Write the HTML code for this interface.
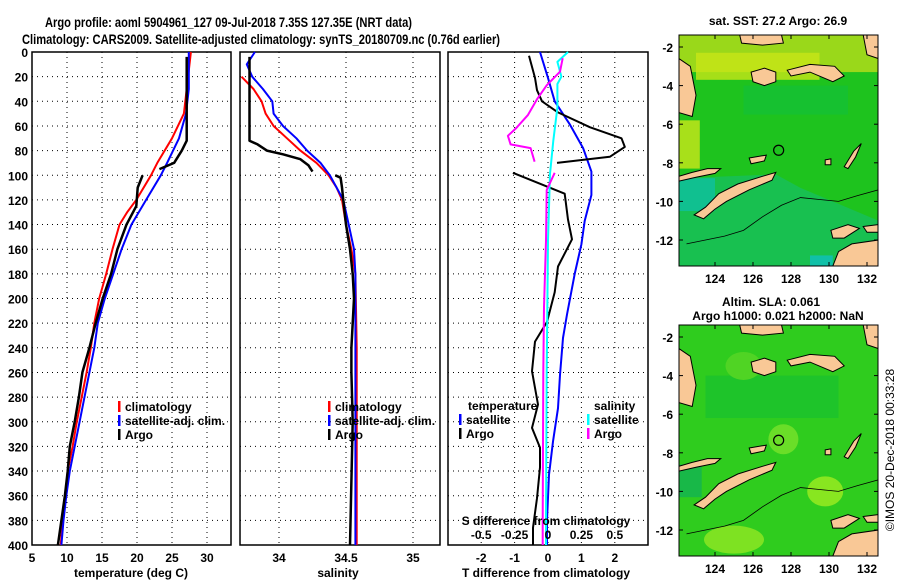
<!DOCTYPE html>
<html><head><meta charset="utf-8">
<style>
html,body{margin:0;padding:0;background:#fff;}
svg{display:block;font-family:"Liberation Sans",sans-serif;}
text{font-weight:bold;fill:#000;}
</style></head>
<body>
<svg id="chart" width="900" height="580" viewBox="0 0 900 580" xmlns="http://www.w3.org/2000/svg">
<rect width="900" height="580" fill="#fff"/>
<text x="45" y="27" font-size="14" textLength="367" lengthAdjust="spacingAndGlyphs">Argo profile: aoml 5904961_127 09-Jul-2018 7.35S 127.35E (NRT data)</text>
<text x="22" y="44" font-size="14" textLength="478" lengthAdjust="spacingAndGlyphs">Climatology: CARS2009. Satellite-adjusted climatology: synTS_20180709.nc (0.76d earlier)</text>
<g id="g1"></g>
<g id="g2"></g>
<g id="g3"></g>
<g id="m1"></g>
<g id="m2"></g>
<text x="778" y="25" font-size="12" text-anchor="middle">sat. SST: 27.2 Argo: 26.9</text>
<text x="771" y="306" font-size="12" text-anchor="middle">Altim. SLA: 0.061</text>
<text x="778" y="320" font-size="12" text-anchor="middle">Argo h1000: 0.021 h2000: NaN</text>
<text x="0" y="0" font-size="12" font-weight="normal" text-anchor="middle" transform="translate(894,450) rotate(-90)" style="font-weight:normal">©IMOS 20-Dec-2018 00:33:28</text>
</svg>
<script>
// ---- data (depth in m) ----
const tClimDepth=[0,50,70,90,100,120,130,140,160,180,200,220,240,260,280,300,320,340,360,380,400];
const tClimVal=[27.7,26.7,25,22.9,22,19.9,18.6,17.5,16.5,15.6,14.6,13.9,13.4,12.8,12.1,11.4,10.8,10.1,9.8,9.4,9.1];
const tSatDepth=[0,30,50,70,90,100,120,140,160,180,200,220,240,260,280,300,320,340,360,380,400];
const tSatVal=[27.4,27.4,27,26,24.3,23.4,21.3,19.2,17.8,16.6,15.4,14.4,13.9,13.2,12.5,11.8,11.1,10.4,9.9,9.5,9.2];
const tArgoDepthA=[4,72,80,90,95];
const tArgoValA=[27.1,27.1,26.4,25.3,23.2];
const tArgoDepthB=[100,110,125,140,160,180,200,220,240,260,280,300,320,340,360,380,400];
const tArgoValB=[20.8,20.1,19.9,18.5,17.2,16.3,15.1,14.1,13.2,12.2,11.7,11.1,10.4,10.1,9.7,9.2,8.7];

const sClimDepth=[20,30,40,50,60,70,80,90,100,110,120,140,160,180,240,400];
const sClimVal=[33.72,33.81,33.87,33.9,33.96,34.06,34.16,34.28,34.37,34.43,34.47,34.5,34.54,34.57,34.58,34.58];
const sSatDepth=[0,10,20,30,40,50,60,70,80,90,100,120,140,160,180,400];
const sSatVal=[33.82,33.76,33.8,33.88,33.95,33.96,34.03,34.13,34.21,34.31,34.38,34.48,34.52,34.56,34.57,34.57];
const sArgoDepthA=[4,72,75,80,83,87,92,97];
const sArgoValA=[33.78,33.78,33.84,33.91,34.03,34.16,34.22,34.25];
const sArgoDepthB=[100,102,110,120,140,160,180,200,240,260,300,400];
const sArgoValB=[34.42,34.46,34.47,34.48,34.5,34.53,34.55,34.56,34.54,34.54,34.55,34.53];

const dTSatDepth=[0,21,40,59,78,97,116,137,156,180,213,232,262,289,316,343,380,400];
const dTSatVal=[-0.24,0,0.2,0.66,1.05,1.3,1.3,1.1,1.0,0.8,0.57,0.45,0.36,0.3,0.15,0.03,-0.03,-0.03];
const dTArgoDepthA=[3,21,31,40,49,61,70,77,85,90];
const dTArgoValA=[-0.57,-0.39,-0.33,-0.18,0.3,1.25,2.2,2.3,1.85,0.27];
const dTArgoDepthB=[98,115,136,152,174,195,219,235,259,286,305,321,337,362,386,400];
const dTArgoValB=[-1.05,0.5,0.6,0.72,0.3,0.2,-0.03,-0.39,-0.48,-0.3,-0.48,-0.24,-0.24,-0.33,-0.45,-0.45];
const dSSatDepth=[0,8,20,26,45,72,99,153,260,380,400];
const dSSatVal=[0.15,0.07,0.1,0.07,0.07,0.04,0.015,0,-0.01,-0.015,-0.015];
const dSArgoDepthA=[5,16,27,38,51,62,68,75,78,89];
const dSArgoValA=[0.11,0.09,-0.01,-0.08,-0.15,-0.24,-0.3,-0.28,-0.13,-0.1];
const dSArgoDepthB=[98,112,153,207,260,380,400];
const dSArgoValB=[0.05,-0.01,-0.015,-0.03,-0.035,-0.04,-0.04];

const depthTicks=[0,20,40,60,80,100,120,140,160,180,200,220,240,260,280,300,320,340,360,380,400];
const tempTicks=[5,10,15,20,25,30];
const salTicks=[34,34.5,35];
const dTTicks=[-2,-1,0,0.5,1,2];
const dTTickLabels=["-2","-1","","","1","2"];
const dSTicks=[-0.5,-0.25,0,0.25,0.5];
const lonTicks=[124,126,128,130,132];
const latTicks=[-2,-4,-6,-8,-10,-12];

const NS="http://www.w3.org/2000/svg";
function el(p,tag,attrs){const e=document.createElementNS(NS,tag);for(const k in attrs)e.setAttribute(k,attrs[k]);p.appendChild(e);return e;}
const Y0=52,Y1=545;
const yD=d=>Y0+d*(Y1-Y0)/400;
const xT=t=>32+(t-5)*7.0;
const xS=s=>279+(s-34)*134;
const xDT=t=>548+t*33.4;
const xDS=s=>548+s*133.6;

function frame(g,x0,x1,gridXs){
  gridXs.forEach(x=>{const l=el(g,'line',{x1:x,x2:x,y1:Y0,y2:Y1,stroke:'#000','stroke-width':1,'stroke-dasharray':'1 4'});
    
    });
  depthTicks.forEach(d=>{if(d===0||d===400)return;const l=el(g,'line',{x1:x0,x2:x1,y1:yD(d),y2:yD(d),stroke:'#000','stroke-width':1,'stroke-dasharray':'1 4'});
    
    });
  const r=el(g,'rect',{x:x0,y:Y0,width:x1-x0,height:Y1-Y0,fill:'none',stroke:'#000','stroke-width':1.5});
  
  
}
function line(g,ds,vs,xf,color,w,name){
  const pts=ds.map((d,i)=>xf(vs[i]).toFixed(1)+','+yD(d).toFixed(1)).join(' ');
  const p=el(g,'polyline',{points:pts,fill:'none',stroke:color,'stroke-width':w,'stroke-linejoin':'round'});
  
  
}
function txt(g,x,y,s,size,anchor,name){const t=el(g,'text',{x:x,y:y,'font-size':size,'text-anchor':anchor||'start'});t.textContent=s;
  
  return t;}
function legend(g,x,y,color,label){
  const m=el(g,'rect',{x:x,y:y-10,width:2.5,height:11,fill:color});
  
  
  txt(g,x+7,y,label,12,'start','legend-entry');
}

// Panel 1
const g1=document.getElementById('g1');
frame(g1,32,231,tempTicks.slice(1).map(xT));
depthTicks.forEach(d=>txt(g1,28,yD(d)+5,String(d),12,'end','y-tick-label'));
tempTicks.forEach(t=>txt(g1,xT(t),562,String(t),12,'middle','x-tick-label'));
txt(g1,131,577,'temperature (deg C)',12,'middle','x-axis-title');
line(g1,tClimDepth,tClimVal,xT,'#f00',2,'temperature-climatology-line');
line(g1,tSatDepth,tSatVal,xT,'#00f',2,'temperature-satellite-line');
line(g1,tArgoDepthA,tArgoValA,xT,'#000',2.5,'temperature-argo-line');
line(g1,tArgoDepthB,tArgoValB,xT,'#000',2.5,'temperature-argo-line-deep');
legend(g1,118,411,'#f00','climatology');
legend(g1,118,425,'#00f','satellite-adj. clim.');
legend(g1,118,439,'#000','Argo');

// Panel 2
const g2=document.getElementById('g2');
frame(g2,240,440,salTicks.map(xS));
salTicks.forEach(s=>txt(g2,xS(s),562,String(s),12,'middle','x-tick-label'));
txt(g2,338,577,'salinity',12,'middle','x-axis-title');
line(g2,sClimDepth,sClimVal,xS,'#f00',2,'salinity-climatology-line');
line(g2,sSatDepth,sSatVal,xS,'#00f',2,'salinity-satellite-line');
line(g2,sArgoDepthA,sArgoValA,xS,'#000',2.5,'salinity-argo-line');
line(g2,sArgoDepthB,sArgoValB,xS,'#000',2.5,'salinity-argo-line-deep');
legend(g2,328,411,'#f00','climatology');
legend(g2,328,425,'#00f','satellite-adj. clim.');
legend(g2,328,439,'#000','Argo');

// Panel 3
const g3=document.getElementById('g3');
frame(g3,448,648,[-2,-1,0,1,2].map(xDT));
dTTicks.forEach((t,i)=>{if(dTTickLabels[i])txt(g3,xDT(t),562,dTTickLabels[i],12,'middle','x-tick-label');});
txt(g3,xDT(0),562,'0',12,'middle','x-tick-label');
txt(g3,546,577,'T difference from climatology',12,'middle','x-axis-title');
line(g3,dTSatDepth,dTSatVal,xDT,'#00f',2,'temp-diff-satellite-line');
line(g3,dTArgoDepthA,dTArgoValA,xDT,'#000',2,'temp-diff-argo-line');
line(g3,dTArgoDepthB,dTArgoValB,xDT,'#000',2,'temp-diff-argo-line-deep');
line(g3,dSSatDepth,dSSatVal,xDS,'#0ff',2,'sal-diff-satellite-line');
line(g3,dSArgoDepthA,dSArgoValA,xDS,'#f0f',2,'sal-diff-argo-line');
line(g3,dSArgoDepthB,dSArgoValB,xDS,'#f0f',2,'sal-diff-argo-line-deep');
txt(g3,468,410,'temperature',12,'start','legend-title');
txt(g3,594,410,'salinity',12,'start','legend-title');
legend(g3,459,424,'#00f','satellite');
legend(g3,459,438,'#000','Argo');
legend(g3,587,424,'#0ff','satellite');
legend(g3,587,438,'#f0f','Argo');
txt(g3,546,525,'S difference from climatology',12,'middle','s-axis-title');
dSTicks.forEach(s=>txt(g3,xDS(s),539,String(s),12,'middle','s-tick-label'));

// Maps
const land=[
 [[122.9,-10.7],[123.5,-10.3],[124.2,-9.6],[125.2,-9.1],[126.5,-8.7],[127.2,-8.5],[127.0,-8.9],[125.8,-9.4],[124.6,-10.0],[124.0,-10.4],[123.4,-10.9]],
 [[125.8,-7.75],[126.7,-7.6],[126.6,-7.9],[125.9,-8.05]],
 [[122.1,-8.7],[122.8,-8.5],[123.6,-8.3],[124.3,-8.3],[124.0,-8.55],[123,-8.75],[122.1,-8.95]],
 [[125.9,-3.3],[126.6,-3.1],[127.2,-3.3],[127.2,-3.8],[126.6,-4.0],[126.0,-3.8]],
 [[127.8,-3.2],[129,-2.9],[130.3,-3.0],[130.8,-3.5],[130.2,-3.8],[129,-3.3],[128,-3.5]],
 [[125.3,-1.38],[127.5,-1.38],[127.6,-1.8],[126.5,-1.9],[125.4,-1.8]],
 [[131.8,-1.38],[132.6,-1.38],[132.6,-2.6],[132,-2.4]],
 [[122.1,-2.6],[122.7,-3.0],[123.0,-4.5],[122.8,-5.6],[122.1,-5.4]],
 [[130.8,-8.2],[131.3,-7.4],[131.7,-7.0],[131.4,-7.7],[131.0,-8.3]],
 [[130.2,-13.35],[130.5,-12.6],[131.2,-12.2],[132.6,-12.0],[132.6,-13.35]],
 [[130.1,-11.5],[131.0,-11.2],[131.6,-11.4],[130.8,-11.9],[130.2,-11.9]],
 [[131.8,-11.3],[132.6,-11.2],[132.6,-11.6],[132.0,-11.6]],
 [[129.8,-7.85],[130.1,-7.8],[130.1,-8.1],[129.8,-8.1]]
];
const contour=[[122.5,-12.2],[123.5,-12.0],[124.5,-11.8],[125.5,-11.5],[126.5,-10.8],[127.5,-10.2],[128.5,-9.8],[129.5,-9.9],[130.5,-10.0],[131.5,-9.7],[132.6,-9.4]];
function drawMap(g,top,latY2,fillFn){
  const x0=679,x1=878,y0=top,y1=top+231;
  const lx=lon=>715+(lon-124)*19;
  const ly=lat=>latY2+(-2-lat)*19.3;
  const cp=el(g,'clipPath',{id:'c'+top});el(cp,'rect',{x:x0,y:y0,width:x1-x0,height:y1-y0});
  const inner=el(g,'g',{'clip-path':'url(#c'+top+')'});
  fillFn(inner,x0,y0,x1,y1,lx,ly);
  land.forEach(poly=>{const p=el(inner,'polygon',{points:poly.map(q=>lx(q[0]).toFixed(1)+','+ly(q[1]).toFixed(1)).join(' '),fill:'#f9c896',stroke:'#000','stroke-width':1});
    
    });
  const c=el(inner,'polyline',{points:contour.map(q=>lx(q[0])+','+ly(q[1])).join(' '),fill:'none',stroke:'#000','stroke-width':0.8});
  
  
  const m=el(inner,'circle',{cx:lx(127.35),cy:ly(-7.35),r:5,fill:'none',stroke:'#000','stroke-width':1.2});
  
  
  const r=el(g,'rect',{x:x0,y:y0,width:x1-x0,height:y1-y0,fill:'none',stroke:'#000','stroke-width':1});
  
  
  latTicks.forEach(l=>{txt(g,673,ly(l)+5,String(l),12,'end','lat-tick-label');el(g,'line',{x1:x0,x2:x0+4,y1:ly(l),y2:ly(l),stroke:'#000'});el(g,'line',{x1:x1-4,x2:x1,y1:ly(l),y2:ly(l),stroke:'#000'});});
  lonTicks.forEach(l=>{txt(g,lx(l),y1+17,String(l),12,'middle','lon-tick-label');el(g,'line',{x1:lx(l),x2:lx(l),y1:y1-4,y2:y1,stroke:'#000'});el(g,'line',{x1:lx(l),x2:lx(l),y1:y0,y2:y0+4,stroke:'#000'});});
}
drawMap(document.getElementById('m1'),35,47,(g,x0,y0,x1,y1,lx,ly)=>{
  el(g,'rect',{x:x0,y:y0,width:x1-x0,height:y1-y0,fill:'#1ec31e'});
  el(g,'rect',{x:x0,y:y0,width:x1-x0,height:ly(-3.3)-y0,fill:'#9ad81a'});
  el(g,'rect',{x:lx(123),y:ly(-2.3),width:lx(129.5)-lx(123),height:ly(-3.7)-ly(-2.3),fill:'#c8e616',opacity:0.8});
  el(g,'rect',{x:x0,y:ly(-5.8),width:lx(123.2)-x0,height:ly(-8.3)-ly(-5.8),fill:'#a8e01a'});
  el(g,'polygon',{points:[[122.1,-8.8],[127.2,-8.6],[128.5,-9.3],[132.6,-11],[132.6,-13.4],[122.1,-13.4]].map(q=>lx(q[0])+','+ly(q[1])).join(' '),fill:'#18c050'});
  el(g,'rect',{x:x0,y:ly(-8.8),width:lx(124)-x0,height:ly(-10.5)-ly(-8.8),fill:'#10c090'});
  el(g,'rect',{x:lx(129),y:ly(-12.8),width:lx(130.2)-lx(129),height:y1-ly(-12.8),fill:'#10c0a8'});
  el(g,'rect',{x:lx(125.5),y:ly(-4),width:lx(131)-lx(125.5),height:ly(-5.5)-ly(-4),fill:'#12c038',opacity:0.7});
});
drawMap(document.getElementById('m2'),325,337,(g,x0,y0,x1,y1,lx,ly)=>{
  el(g,'rect',{x:x0,y:y0,width:x1-x0,height:y1-y0,fill:'#2fcc1e'});
  el(g,'rect',{x:lx(123.5),y:ly(-4),width:lx(130.5)-lx(123.5),height:ly(-6.2)-ly(-4),fill:'#1ec42a'});
  el(g,'ellipse',{cx:lx(127.6),cy:ly(-7.3),rx:15,ry:15,fill:'#6ade28'});
  el(g,'ellipse',{cx:lx(129.8),cy:ly(-10),rx:18,ry:15,fill:'#88e620'});
  el(g,'ellipse',{cx:lx(125),cy:ly(-12.5),rx:30,ry:14,fill:'#7ee222'});
  el(g,'rect',{x:x0,y:ly(-8.6),width:lx(123.3)-x0,height:ly(-10.3)-ly(-8.6),fill:'#18b848'});
  el(g,'ellipse',{cx:lx(125.5),cy:ly(-3.5),rx:18,ry:14,fill:'#50d424'});
});
</script>
</body></html>
